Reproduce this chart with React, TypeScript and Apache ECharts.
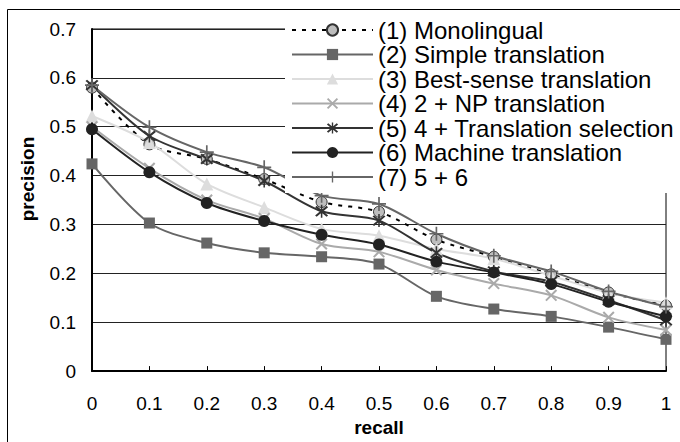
import React, { useEffect, useRef } from "react";
import * as echarts from "echarts";

const recall = [0, 0.1, 0.2, 0.3, 0.4, 0.5, 0.6, 0.7, 0.8, 0.9, 1];
const seriesNames = [
  "(1) Monolingual",
  "(2) Simple translation",
  "(3) Best-sense translation",
  "(4) 2 + NP translation",
  "(5) 4 + Translation selection",
  "(6) Machine translation",
  "(7) 5 + 6",
];
const monolingual = [0.58, 0.464, 0.434, 0.393, 0.346, 0.326, 0.269, 0.234, 0.198, 0.161, 0.134];
const simpleTranslation = [0.424, 0.303, 0.262, 0.242, 0.234, 0.219, 0.153, 0.127, 0.112, 0.09, 0.065];
const bestSense = [0.522, 0.468, 0.383, 0.335, 0.291, 0.277, 0.25, 0.23, 0.195, 0.16, 0.14];
const npTranslation = [0.5, 0.415, 0.35, 0.312, 0.26, 0.244, 0.207, 0.179, 0.155, 0.11, 0.084];
const translationSelection = [0.585, 0.481, 0.434, 0.389, 0.327, 0.308, 0.242, 0.204, 0.183, 0.145, 0.104];
const machineTranslation = [0.495, 0.407, 0.344, 0.307, 0.279, 0.259, 0.224, 0.202, 0.178, 0.142, 0.112];
const combined = [0.585, 0.499, 0.448, 0.417, 0.359, 0.342, 0.281, 0.236, 0.204, 0.163, 0.132];
const yTicks = [0, 0.1, 0.2, 0.3, 0.4, 0.5, 0.6, 0.7];
const xAxisTitle = "recall";
const yAxisTitle = "precision";

const FONT = "'Liberation Sans', Arial, sans-serif";

const xSym = "path://M0,1.2 L1.2,0 L10,8.8 L8.8,10 Z M8.8,0 L10,1.2 L1.2,10 L0,8.8 Z";
const starSym =
  "path://M0,1.2 L1.2,0 L10,8.8 L8.8,10 Z M8.8,0 L10,1.2 L1.2,10 L0,8.8 Z M4.4,-1 L5.6,-1 L5.6,11 L4.4,11 Z";
const plusSym = "path://M0,4.4 L10,4.4 L10,5.6 L0,5.6 Z M4.4,0 L5.6,0 L5.6,10 L4.4,10 Z";

function pairs(vals: number[]) {
  return recall.map((r, i) => [r, vals[i]]);
}

export default function App() {
  const ref = useRef<HTMLDivElement>(null);
  useEffect(() => {
    if (!ref.current) return;
    const chart = echarts.init(ref.current, undefined, { renderer: "svg" });
    const mk = (
      name: string,
      vals: number[],
      lineColor: string,
      symbol: string,
      symbolSize: number,
      fill: string,
      border: string,
      dashed = false
    ) => ({
      name,
      type: "line",
      data: pairs(vals),
      smooth: 0.3,
      symbol,
      symbolSize,
      showSymbol: true,
      lineStyle: { color: lineColor, width: 2, type: dashed ? [4, 6] : "solid" },
      itemStyle: { color: fill, borderColor: border, borderWidth: border === "none" ? 0 : 1, opacity: 1 },
      emphasis: { disabled: true },
    });
    chart.setOption({
      animation: false,
      textStyle: { fontFamily: FONT },
      grid: { left: 92, right: 14, top: 29, bottom: 69, show: true, borderColor: "#000", borderWidth: 1 },
      xAxis: {
        type: "value",
        min: 0,
        max: 1,
        interval: 0.1,
        name: xAxisTitle,
        nameLocation: "middle",
        nameGap: 38,
        nameTextStyle: { fontSize: 19, fontWeight: "bold", color: "#000", fontFamily: FONT },
        axisLine: { show: true, lineStyle: { color: "#000", width: 2 } },
        axisTick: { show: true, inside: true, length: 5, lineStyle: { color: "#000" } },
        axisLabel: { fontSize: 19, color: "#000", margin: 23, fontFamily: FONT, formatter: (v: number) => String(Math.round(v * 10) / 10) },
        splitLine: { show: false },
      },
      yAxis: {
        type: "value",
        min: 0,
        max: 0.7,
        interval: 0.1,
        axisLine: { show: true, lineStyle: { color: "#000", width: 2 } },
        axisTick: { show: false },
        axisLabel: {
          fontSize: 19,
          color: "#000",
          margin: 16,
          fontFamily: FONT,
          formatter: (v: number) => {
            const t = yTicks.find((k) => Math.abs(k - v) < 1e-6);
            return t === undefined ? "" : String(t);
          },
        },
        splitLine: { show: true, lineStyle: { color: "#222", width: 1 } },
      },
      legend: {
        orient: "vertical",
        left: 285,
        top: 14,
        padding: [4, 20, 4, 6],
        backgroundColor: "#fff",
        itemWidth: 81,
        itemHeight: 14,
        itemGap: 0.5,
        textStyle: { fontSize: 24, color: "#000", fontFamily: FONT, lineHeight: 24 },
        data: seriesNames,
      },
      graphic: [
        {
          type: "rect",
          shape: { x: 7.5, y: 9.5, width: 720, height: 480 },
          style: { fill: "none", stroke: "#000", lineWidth: 1 },
          silent: true,
        },
        {
          type: "text",
          x: 27,
          y: 179,
          rotation: Math.PI / 2,
          style: {
            text: yAxisTitle,
            fontSize: 19,
            fontWeight: "bold",
            fill: "#000",
            fontFamily: FONT,
            align: "center",
            verticalAlign: "middle",
          },
          silent: true,
        },
      ],
      series: [
        mk(seriesNames[0], monolingual, "#000", "circle", 11, "#bdbdbd", "#333", true),
        mk(seriesNames[1], simpleTranslation, "#666", "rect", 11, "#666", "none"),
        mk(seriesNames[2], bestSense, "#ddd", "triangle", 13, "#ddd", "none"),
        mk(seriesNames[3], npTranslation, "#aaa", xSym, 12, "#aaa", "none"),
        mk(seriesNames[4], translationSelection, "#333", starSym, 13, "#333", "none"),
        mk(seriesNames[5], machineTranslation, "#222", "circle", 12, "#222", "none"),
        mk(seriesNames[6], combined, "#666", plusSym, 14, "#666", "none"),
      ],
    });
    return () => chart.dispose();
  }, []);
  return <div ref={ref} style={{ width: 680, height: 442, position: "absolute", left: 0, top: 0 }} />;
}
